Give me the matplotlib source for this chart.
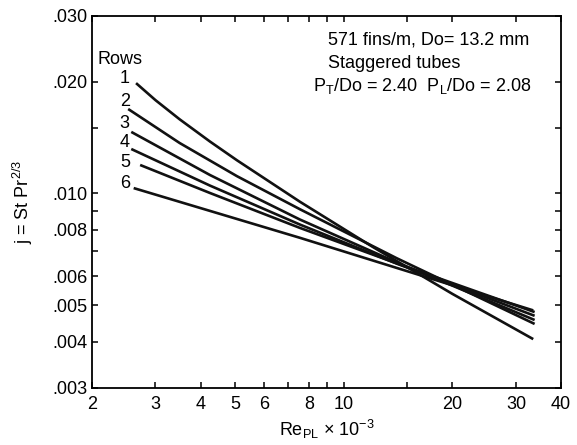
import matplotlib
matplotlib.use("Agg")
import matplotlib.pyplot as plt
from matplotlib.ticker import FixedLocator, FixedFormatter, NullLocator

plt.rcParams['font.family'] = ['Liberation Sans', 'DejaVu Sans']
plt.rcParams['mathtext.fontset'] = 'custom'
plt.rcParams['mathtext.rm'] = 'Liberation Sans'
plt.rcParams['mathtext.it'] = 'Liberation Sans:italic'
plt.rcParams['mathtext.bf'] = 'Liberation Sans:bold'

# Data (Re_PL x 1e-3, j)
re_row1 = [2.65, 3.0, 3.5, 4.25, 5.05, 7.55, 12, 20, 33.5]
j_row1 = [0.0198, 0.01782, 0.01583, 0.01379, 0.01228, 0.00950, 0.00719, 0.00537, 0.00406]
re_row2 = [2.52, 3.5, 5.05, 7.55, 14, 33.8]
j_row2 = [0.01687, 0.01367, 0.01113, 0.00907, 0.00670, 0.00446]
re_row3 = [2.57, 4.25, 7.55, 14, 33.8]
j_row3 = [0.01464, 0.01121, 0.00851, 0.00653, 0.00457]
re_row4 = [2.57, 4.25, 7.55, 14, 33.8]
j_row4 = [0.01317, 0.01050, 0.00825, 0.00648, 0.00469]
re_row5 = [2.72, 4.25, 7.55, 14, 33.8]
j_row5 = [0.01193, 0.01003, 0.00808, 0.00649, 0.00480]
re_row6 = [2.61, 7.55, 33.5]
j_row6 = [0.01034, 0.00760, 0.00485]
row_labels = ["1", "2", "3", "4", "5", "6"]

x_ticks = [2, 3, 4, 5, 6, 7, 8, 9, 10, 15, 20, 30, 40]
x_ticklabels = ["2", "3", "4", "5", "6", "", "8", "", "10", "", "20", "30", "40"]
y_ticks = [0.003, 0.004, 0.005, 0.006, 0.007, 0.008, 0.009, 0.010, 0.015, 0.020, 0.030]
y_ticklabels = [".003", ".004", ".005", ".006", "", ".008", "", ".010", "", ".020", ".030"]

fig = plt.figure(figsize=(5.77, 4.45), dpi=100)
ax = fig.add_axes([92/577, 1-388/445, 469/577, 372/445])

rows = [(re_row1, j_row1), (re_row2, j_row2), (re_row3, j_row3),
        (re_row4, j_row4), (re_row5, j_row5), (re_row6, j_row6)]
for xs, ys in rows:
    ax.plot(xs, ys, color='#111111', lw=1.9, solid_capstyle='butt',
            solid_joinstyle='round')

ax.set_xscale('log')
ax.set_yscale('log')
ax.set_xlim(2, 40)
ax.set_ylim(0.003, 0.030)

ax.xaxis.set_major_locator(FixedLocator(x_ticks))
ax.xaxis.set_major_formatter(FixedFormatter(x_ticklabels))
ax.xaxis.set_minor_locator(NullLocator())
ax.yaxis.set_major_locator(FixedLocator(y_ticks))
ax.yaxis.set_major_formatter(FixedFormatter(y_ticklabels))
ax.yaxis.set_minor_locator(NullLocator())
ax.tick_params(which='both', direction='in', top=True, right=True,
               length=4, width=1.1, labelsize=13)
ax.tick_params(axis='x', pad=6)
ax.tick_params(axis='y', pad=3)
for s in ax.spines.values():
    s.set_linewidth(1.3)

ax.set_xlabel(r'Re$_{\rm PL}$ $\times$ 10$^{-3}$', fontsize=13, labelpad=3)
ax.set_ylabel(r'j = St Pr$^{2/3}$', fontsize=13, labelpad=13)

# Row labels
ax.text(0.011, 0.884, "Rows", transform=ax.transAxes, fontsize=13, va='center', ha='left')
row_pos = [0.831, 0.769, 0.710, 0.659, 0.605, 0.551]
for lab, yp in zip(row_labels, row_pos):
    ax.text(0.070, yp, lab, transform=ax.transAxes, fontsize=13, va='center', ha='center')

ax.text(0.503, 0.935, "571 fins/m, Do= 13.2 mm", transform=ax.transAxes,
        fontsize=13, va='center', ha='left')
ax.text(0.503, 0.871, "Staggered tubes", transform=ax.transAxes,
        fontsize=13, va='center', ha='left')
ax.text(0.471, 0.812, r'P$_{\rm T}$/Do = 2.40  P$_{\rm L}$/Do = 2.08', transform=ax.transAxes,
        fontsize=13, va='center', ha='left')

fig.savefig("out.png", dpi=100)
